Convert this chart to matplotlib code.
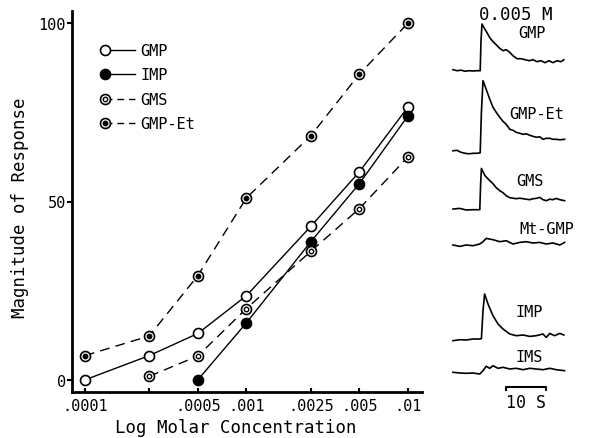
import matplotlib
matplotlib.use("Agg")
import matplotlib.pyplot as plt
from matplotlib.lines import Line2D
from matplotlib.legend_handler import HandlerLine2DCompound, HandlerTuple
from matplotlib.ticker import FixedLocator, FixedFormatter, NullLocator

plt.rcParams['font.family'] = 'DejaVu Sans Mono'

# ---- dose-response data (concentration in M, response magnitude) ----
conc = [0.0001, 0.00025, 0.0005, 0.001, 0.0025, 0.005, 0.01]
tick_labels = ['.0001', '', '.0005', '.001', '.0025', '.005', '.01']
yticks = [0, 50, 100]

gmp_x = conc
gmp_y = [0, 6.8, 13, 23.6, 43, 58.3, 76.5]
imp_x = conc[2:]
imp_y = [0, 16, 38.7, 55, 74]
gms_x = conc[1:]
gms_y = [1, 6.7, 20, 36, 48, 62.5]
gmpet_x = conc
gmpet_y = [6.8, 12.3, 29.2, 51, 68.4, 85.7, 100]

# ---- recordings at 0.005 M (time in s, deflection in px) ----
gmp_t = [0, 1, 2, 3, 4, 5, 6, 6.8, 7.0, 7.25, 7.9, 8.5, 9.2, 10, 10.8, 11.5, 12.5,
         13.3, 14, 15, 16, 17, 18, 19, 20, 21, 22, 23, 24, 25, 26, 27, 27.7]
gmp_v = [1, 0, 0.5, -0.5, 0, -0.3, 0, 0, 30, 46.7, 42, 38, 33, 29, 26, 23, 20,
         21, 19, 15, 12, 12, 11, 10, 11, 9, 10, 8, 10, 8, 10, 9, 11]

gmpet_t = [0, 1, 2, 3, 4, 5, 6, 6.8, 7.1, 7.5, 8.3, 9.2, 10, 10.8, 11.7, 12.5, 13.3,
           14.2, 15, 15.8, 16.7, 17.5, 18.3, 19.2, 20, 20.8, 21.7, 22.5, 23.3, 24.2,
           25, 25.8, 26.7, 27.9]
gmpet_v = [1.5, 2, 0, -1, -1.5, -1, -1, -0.5, 40, 71.7, 63, 53, 45, 40, 35, 31, 28,
           23, 22, 20, 19, 18, 18.5, 17, 16, 15, 15.5, 13, 14, 14, 13, 13, 12.5, 13]

gms_t = [0, 1.7, 3.3, 5, 6.7, 6.9, 7.1, 8.0, 9.2, 10, 10.8, 11.7, 12.5, 13.3, 14.2,
         15, 15.8, 16.7, 17.5, 18.3, 19.2, 20, 20.8, 21.7, 22.5, 23.3, 24.2, 25,
         25.8, 26.7, 27.9]
gms_v = [0.7, 1.3, -0.3, 0, 0, 25, 41.3, 34, 29, 26, 22, 19, 17, 14, 12, 11.5, 11,
         11.5, 11, 10.5, 10, 11, 11.3, 12.3, 10, 9, 10.5, 10, 11.3, 10, 9]

mtgmp_t = [0, 1.7, 3.3, 5, 6.7, 7.5, 8.3, 10, 11.7, 13.3, 15, 16.7, 18.3, 20, 21.7,
           23.3, 25, 26.7, 27.9]
mtgmp_v = [0.7, -0.7, 0.7, 0, 1.7, 4, 7.3, 6, 4, 5, 1.7, 3.3, 4, 2.7, 3.3, 1.7, 2.7,
           0.7, 3.3]

imp_t = [0, 1.7, 3.3, 5, 6.7, 7.1, 7.5, 7.9, 8.75, 10, 11.25, 12.5, 14.2, 15.8, 17.5,
         19.2, 20.8, 22.5, 23.3, 24.2, 25.4, 26.7, 27.7]
imp_v = [0, 1, 0.7, 1.7, 1.7, 2, 30, 46.7, 36.7, 25, 16.7, 11.7, 6.7, 5, 5.7, 4.3, 5,
         6.7, 3.3, 7.3, 5, 7.3, 5.7]

ims_t = [0, 1.7, 3.3, 5, 6.7, 7.5, 8.3, 9.2, 10, 11.25, 12.5, 14.2, 15.8, 17.5, 19.2,
         20.8, 22.5, 24.2, 25.8, 27.9]
ims_v = [0.7, 0, -0.3, 0, -1, 2.3, 6.7, 4.7, 7.3, 4.7, 5.7, 4, 4.7, 3.3, 4.7, 4, 3.3,
         4.7, 3.3, 2.3]

W, H = 592, 439
fig = plt.figure(figsize=(W / 100, H / 100), dpi=100)
ax = fig.add_axes([72 / W, (H - 393) / H, 350 / W, 381 / H])

ms_out, ms_in = 7.2, 3.2
mew = 1.2

def series(x, y, ls, face, inner=None):
    ax.plot(x, y, color='k', lw=1.0, ls=ls, zorder=2,
            dashes=(7, 4.5) if ls == '--' else (None, None))
    ax.plot(x, y, ls='none', marker='o', ms=ms_out, mfc=face, mec='k', mew=mew, zorder=3)
    h = Line2D([], [], color='k', lw=1.0, ls=ls, marker='o', ms=ms_out, mfc=face,
               mec='k', mew=mew)
    if ls == '--':
        h.set_dashes((5, 3.5))
    if inner is not None:
        ax.plot(x, y, ls='none', marker='o', ms=ms_in, mfc=inner, mec='k',
                mew=1.0, zorder=4)
        h2 = Line2D([], [], ls='none', marker='o', ms=ms_in, mfc=inner, mec='k', mew=1.0)
        return (h, h2)
    return h

h_gmp = series(gmp_x, gmp_y, '-', 'white')
h_imp = series(imp_x, imp_y, '-', 'black')
h_gms = series(gms_x, gms_y, '--', 'white', inner='white')
h_et = series(gmpet_x, gmpet_y, '--', 'white', inner='black')


class MarkerLeft(HandlerLine2DCompound):
    def get_xdata(self, legend, xdescent, ydescent, width, height, fontsize):
        return [-xdescent, -xdescent + width], [-xdescent]


ax.legend([h_gmp, h_imp, h_gms, h_et], ['GMP', 'IMP', 'GMS', 'GMP-Et'],
          handler_map={Line2D: MarkerLeft(), tuple: HandlerTuple(ndivide=1)},
          loc='upper left', bbox_to_anchor=(0.095, 0.916), frameon=False,
          fontsize=11, handlelength=1.95, handletextpad=0.35, labelspacing=0.62,
          borderpad=0, borderaxespad=0)

ax.set_xscale('log')
ax.set_xlim(10 ** -4.08, 10 ** -1.913)
ax.set_ylim(-3.4, 103.4)
ax.xaxis.set_major_locator(FixedLocator(conc))
ax.xaxis.set_major_formatter(FixedFormatter(tick_labels))
ax.xaxis.set_minor_locator(NullLocator())
ax.yaxis.set_major_locator(FixedLocator(yticks))
ax.tick_params(axis='x', direction='in', length=3, width=1.5, labelsize=11, pad=4)
ax.tick_params(axis='y', direction='out', length=3.5, width=1.5, labelsize=11, pad=1)
for s in ['top', 'right']:
    ax.spines[s].set_visible(False)
for s in ['left', 'bottom']:
    ax.spines[s].set_linewidth(2)
ax.set_xlabel('Log Molar Concentration', fontsize=12.5, va='center')
ax.xaxis.set_label_coords(0.469, -0.092)
ax.set_ylabel('Magnitude of Response', fontsize=12.5, va='center')
ax.yaxis.set_label_coords(-0.148, 0.486)

# ---- recordings panel ----
tx = fig.add_axes([440 / W, 0, 152 / W, 1])
tx.set_xlim(-3.25, 34.75)
tx.set_ylim(H, 0)
tx.axis('off')

traces = [
    (gmp_t, gmp_v, 71.7, 'GMP', 19.7, 33),
    (gmpet_t, gmpet_v, 153.3, 'GMP-Et', 20.9, 115),
    (gms_t, gms_v, 210.7, 'GMS', 19.25, 181.7),
    (mtgmp_t, mtgmp_v, 246.7, 'Mt-GMP', 23.4, 230),
    (imp_t, imp_v, 341.7, 'IMP', 19.0, 312.7),
    (ims_t, ims_v, 374.0, 'IMS', 19.0, 358),
]
for t, v, base, name, lx, ly in traces:
    tx.plot(t, [base - d for d in v], color='k', lw=1.2)
    tx.text(lx, ly, name, fontsize=11, ha='center', va='center')

tx.text(15.6, 15, '0.005 M', fontsize=12.5, ha='center', va='center')
# 10 s scale bar
tx.plot([13.2, 13.2, 23.2, 23.2], [391, 388.3, 388.3, 391], color='k', lw=1.5)
tx.text(18.2, 403, '10 S', fontsize=12, ha='center', va='center')

fig.savefig('out.png', dpi=100)
